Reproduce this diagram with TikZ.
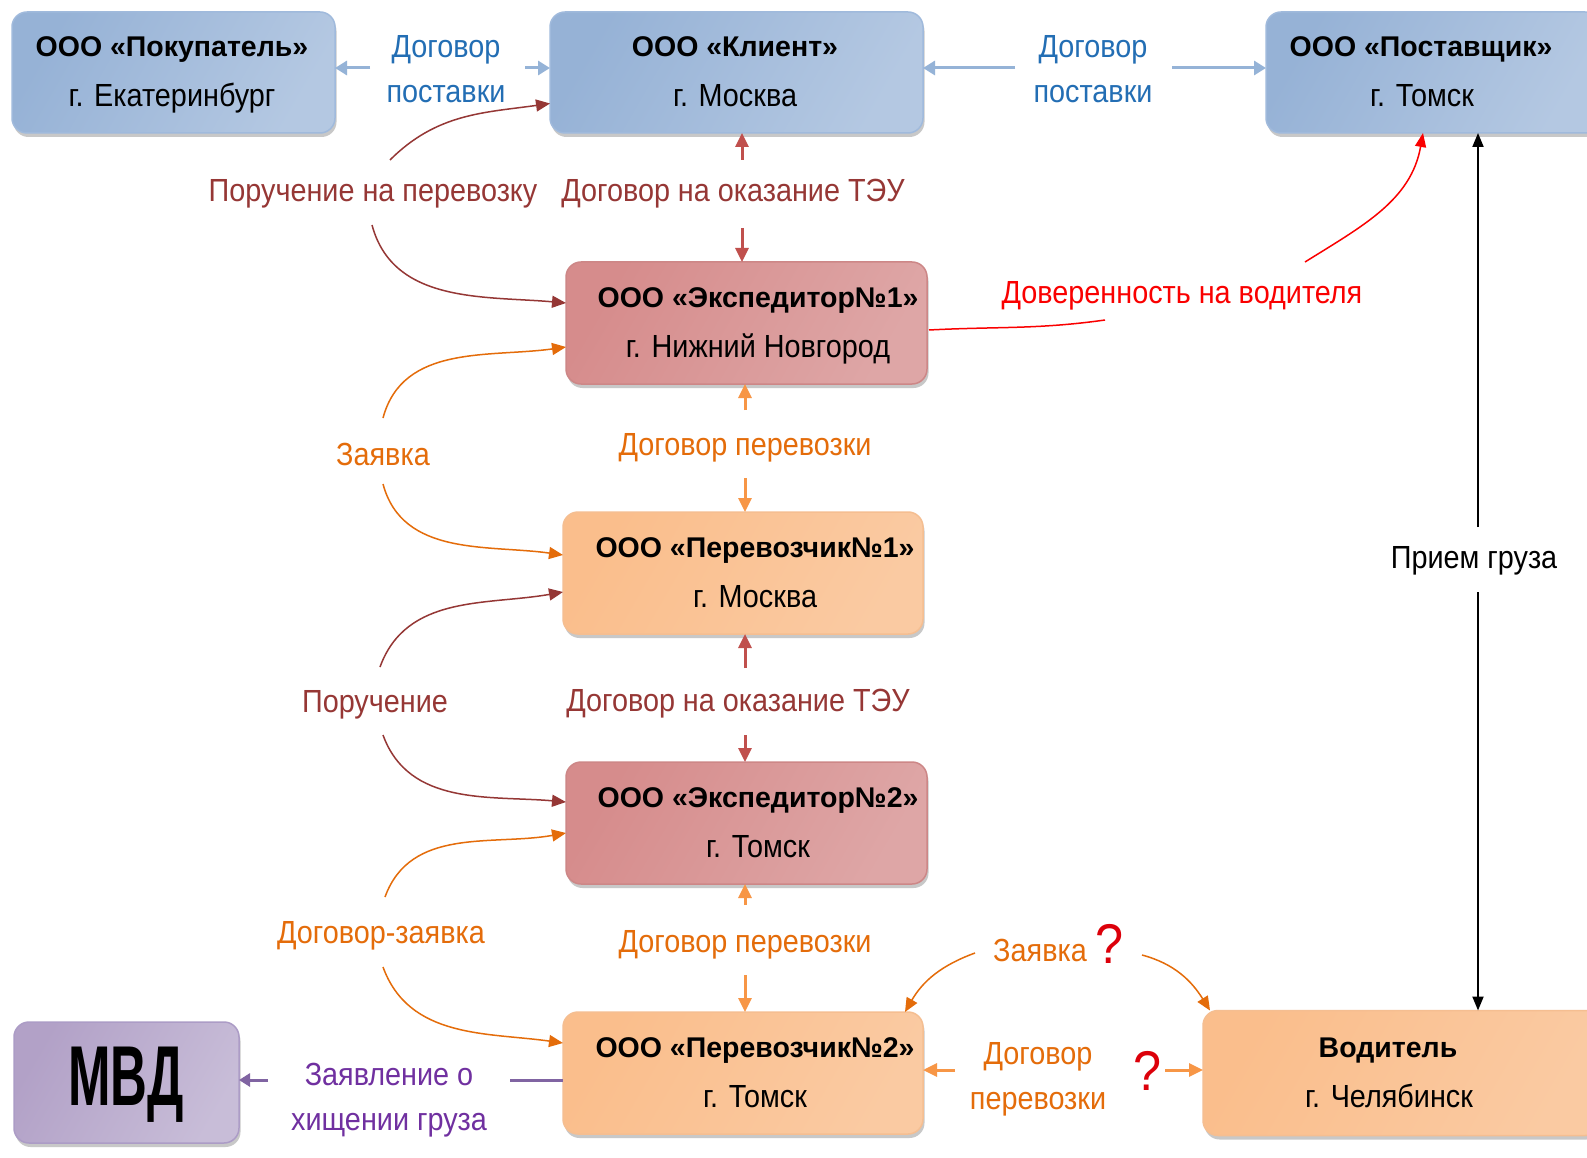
\documentclass[tikz,border=0pt]{standalone}
\usepackage{fontspec}
\setmainfont{Liberation Sans}
\newfontfamily\narf[FakeStretch=0.9]{Liberation Sans}
\newfontfamily\mvdf[FakeStretch=0.6]{Liberation Sans}
\usetikzlibrary{arrows.meta,calc,shadows}
\definecolor{bdark}{RGB}{150,178,214}
\definecolor{blight}{RGB}{228,236,245}
\definecolor{bmid}{RGB}{180,200,226}
\definecolor{bbord}{RGB}{160,186,220}
\definecolor{pdark}{RGB}{214,140,140}
\definecolor{plight}{RGB}{247,228,228}
\definecolor{pmid}{RGB}{222,166,166}
\definecolor{pbord}{RGB}{205,135,135}
\definecolor{odark}{RGB}{250,190,140}
\definecolor{olight}{RGB}{254,240,228}
\definecolor{omid}{RGB}{250,202,162}
\definecolor{obord}{RGB}{245,190,145}
\definecolor{vdark}{RGB}{178,161,199}
\definecolor{vlight}{RGB}{236,232,243}
\definecolor{vmid}{RGB}{200,189,216}
\definecolor{vbord}{RGB}{172,156,198}
\definecolor{tblue}{RGB}{35,110,180}
\definecolor{tdred}{RGB}{150,55,53}
\definecolor{torng}{RGB}{228,108,10}
\definecolor{tred}{RGB}{250,0,0}
\definecolor{qred}{RGB}{220,0,10}
\definecolor{tpurp}{RGB}{112,48,160}
\definecolor{arblue}{RGB}{149,179,215}
\definecolor{arstub}{RGB}{192,80,77}
\definecolor{arcurve}{RGB}{149,55,53}
\definecolor{aroc}{RGB}{228,108,10}
\definecolor{aros}{RGB}{247,150,70}
\definecolor{arpurp}{RGB}{128,100,162}
\begin{document}
\begin{tikzpicture}[x=1pt,y=1pt,
  box/.style={draw, rounded corners=15pt, line width=1.5pt, inner sep=0pt, outer sep=0pt,
    drop shadow={shadow xshift=1.5pt, shadow yshift=-4pt, opacity=0.3, fill=black!70}},
  bluebox/.style={box, draw=bbord, left color=bdark, middle color=blight, right color=bmid, shading angle=60},
  pinkbox/.style={box, draw=pbord, left color=pdark, middle color=plight, right color=pmid, shading angle=60},
  orbox/.style={box, draw=obord, left color=odark, middle color=olight, right color=omid, shading angle=60},
  vibox/.style={box, draw=vbord, left color=vdark, middle color=vlight, right color=vmid, shading angle=60},
  ttl/.style={inner sep=0pt, anchor=base, font=\fontsize{28.5}{30}\selectfont\bfseries},
  sub/.style={inner sep=0pt, anchor=base, font=\narf\fontsize{32}{45}\selectfont},
  lbl/.style={inner sep=0pt, anchor=base, font=\narf\fontsize{32}{45}\selectfont},
  lbl2/.style={inner sep=0pt, align=center, font=\narf\fontsize{32}{45}\selectfont},
  qm/.style={inner sep=0pt, anchor=base, text=qred, font=\narf\fontsize{56}{56}\selectfont},
  ablue/.style={draw=arblue, line width=3pt, -{Triangle[length=12pt,width=14pt]}},
  astub/.style={draw=arstub, line width=3pt, -{Triangle[length=14pt,width=13pt]}},
  acurve/.style={draw=arcurve, line width=1.5pt, -{Triangle[length=14pt,width=12pt]}},
  aocur/.style={draw=aroc, line width=1.5pt, -{Triangle[length=14pt,width=12pt]}},
  aostub/.style={draw=aros, line width=3pt, -{Triangle[length=14pt,width=13pt]}},
  ared/.style={draw=tred, line width=1.5pt},
  ablack/.style={draw=black, line width=2pt, -{Triangle[length=14pt,width=11pt]}},
  apurp/.style={draw=arpurp, line width=3pt}
]
\useasboundingbox[fill=white] (0,0) rectangle (1587,-1158);

% boxes
\node[bluebox, minimum width=323, minimum height=121] (pok) at (173.5,-72.5) {};
\node[bluebox, minimum width=373, minimum height=121] (kli) at (736.5,-72.5) {};
\node[bluebox, minimum width=334, minimum height=121] (pos) at (1433,-72.5) {};
\node[pinkbox, minimum width=361, minimum height=122] (ex1) at (746.5,-323) {};
\node[orbox, minimum width=360, minimum height=122] (per1) at (743,-573) {};
\node[pinkbox, minimum width=361, minimum height=122] (ex2) at (746.5,-823) {};
\node[orbox, minimum width=360, minimum height=122] (per2) at (743,-1073) {};
\node[vibox, minimum width=225, minimum height=121] (mvd) at (126.5,-1082.5) {};
\node[orbox, minimum width=397, minimum height=125] (vod) at (1401.5,-1073) {};

% box texts
\node[ttl] (pokA) at (172,-56.5) {ООО «Покупатель»};
\node[sub] (pokB) at (172,-106.5) {г. Екатеринбург};
\node[ttl] (kliA) at (735,-56.5) {ООО «Клиент»};
\node[sub] (kliB) at (735,-106.5) {г. Москва};
\node[ttl] (posA) at (1421,-56.5) {ООО «Поставщик»};
\node[sub] (posB) at (1422,-106.5) {г. Томск};
\node[ttl] (ex1A) at (758,-307) {ООО «Экспедитор№1»};
\node[sub] (ex1B) at (758,-357) {г. Нижний Новгород};
\node[ttl] (per1A) at (755,-557) {ООО «Перевозчик№1»};
\node[sub] (per1B) at (755,-607) {г. Москва};
\node[ttl] (ex2A) at (758,-807) {ООО «Экспедитор№2»};
\node[sub] (ex2B) at (758,-857) {г. Томск};
\node[ttl] (per2A) at (755,-1057) {ООО «Перевозчик№2»};
\node[sub] (per2B) at (755,-1107) {г. Томск};
\node[ttl] (vodA) at (1388,-1057) {Водитель};
\node[sub] (vodB) at (1389,-1107) {г. Челябинск};
\node[inner sep=0pt, anchor=base, font=\mvdf\fontsize{85}{85}\selectfont\bfseries] (mvdA) at (126,-1105) {МВД};

% labels
\node[lbl2, text=tblue] (dp1) at (446,-69) {Договор\\поставки};
\node[lbl2, text=tblue] (dp2) at (1093,-69) {Договор\\поставки};
\node[lbl, text=tdred] (por1) at (373,-202) {Поручение на перевозку};
\node[lbl, text=tdred] (tey1) at (733,-202) {Договор на оказание ТЭУ};
\node[lbl, text=tred] (dov) at (1182,-304) {Доверенность на водителя};
\node[lbl, text=torng] (zay1) at (383,-465) {Заявка};
\node[lbl, text=torng] (dpr1) at (745,-455) {Договор перевозки};
\node[lbl, text=tdred] (por2) at (375,-712) {Поручение};
\node[lbl, text=tdred] (tey2) at (738,-711) {Договор на оказание ТЭУ};
\node[lbl, text=torng] (dz) at (381,-943) {Договор-заявка};
\node[lbl, text=torng] (dpr2) at (745,-952) {Договор перевозки};
\node[lbl, text=torng] (zay2) at (1040,-961) {Заявка};
\node[qm] (q1) at (1110,-963) {?};
\node[lbl2, text=torng] (dpr3) at (1038,-1079) {Договор\\перевозки};
\node[qm] (q2) at (1147,-1090) {?};
\node[lbl, text=black] (prg) at (1474,-568) {Прием груза};
\node[lbl2, text=tpurp] (zh) at (389,-1100) {Заявление о\\хищении груза};

% free ends
\coordinate (b1) at (370,-68);
\coordinate (b2) at (525,-68);
\coordinate (b3) at (1015,-68);
\coordinate (b4) at (1172,-68);
\coordinate (c1) at (390,-160);
\coordinate (c2) at (372,-225);
\coordinate (c3) at (383,-418);
\coordinate (c4) at (383,-484);
\coordinate (c5) at (380,-667);
\coordinate (c6) at (383,-735);
\coordinate (c7) at (385,-897);
\coordinate (c8) at (383,-967);
\coordinate (s1) at (742,-160);
\coordinate (s2) at (742,-228);
\coordinate (s3) at (745,-410);
\coordinate (s4) at (745,-478);
\coordinate (s5) at (745,-668);
\coordinate (s6) at (745,-735);
\coordinate (s7) at (745,-905);
\coordinate (s8) at (745,-975);
\coordinate (r1) at (1105,-320);
\coordinate (r2) at (1305,-262);
\coordinate (k1) at (975,-953);
\coordinate (k2) at (1142,-955);
\coordinate (h1) at (955,-1070);
\coordinate (h2) at (1165,-1070);
\coordinate (g1) at (1478,-527);
\coordinate (g2) at (1478,-592);
\coordinate (m1) at (268,-1080);
\coordinate (m2) at (510,-1080);

% blue supply arrows
\draw[ablue] (b1) -- (b1 -| pok.east);
\draw[ablue] (b2) -- (b2 -| kli.west);
\draw[ablue] (b3) -- (b3 -| kli.east);
\draw[ablue] (b4) -- (b4 -| pos.west);

% vertical stubs
\draw[astub] (s1) -- (s1 |- kli.south);
\draw[astub] (s2) -- (s2 |- ex1.north);
\draw[aostub] (s3) -- (s3 |- ex1.south);
\draw[aostub] (s4) -- (s4 |- per1.north);
\draw[astub] (s5) -- (s5 |- per1.south);
\draw[astub] (s6) -- (s6 |- ex2.north);
\draw[aostub] (s7) -- (s7 |- ex2.south);
\draw[aostub] (s8) -- (s8 |- per2.north);

% curved connectors on the left
\draw[acurve] (c1) to[out=45, in=188] ($(kli.west)+(0,-31)$);
\draw[acurve] (c2) to[out=-75, in=175] ($(ex1.west)+(0,20)$);
\draw[aocur] (c3) to[out=75, in=188] ($(ex1.west)+(0,-24)$);
\draw[aocur] (c4) to[out=-75, in=172] ($(per1.west)+(0,18)$);
\draw[acurve] (c5) to[out=70, in=190] ($(per1.west)+(0,-19)$);
\draw[acurve] (c6) to[out=-70, in=175] ($(ex2.west)+(0,21)$);
\draw[aocur] (c7) to[out=70, in=190] ($(ex2.west)+(0,-10)$);
\draw[aocur] (c8) to[out=-70, in=172] ($(per2.west)+(0,30)$);

% power of attorney
\draw[ared] ($(ex1.east)+(2,-7)$) to[out=3, in=188] (r1);
\draw[ared, -{Triangle[length=14pt,width=11pt]}] (r2) to[out=32, in=-100] ($(pos.south)+(-10,0)$);

% driver links
\draw[aocur] (k1) to[out=200, in=60] ($(per2.north east)+(-18,0)$);
\draw[aocur] (k2) to[out=-15, in=122] ($(vod.north west)+(7,0)$);
\draw[aostub] (h1) -- (h1 -| per2.east);
\draw[aostub] (h2) -- (h2 -| vod.west);

% cargo reception
\draw[ablack] (g1) -- (g1 |- pos.south);
\draw[ablack] (g2) -- (g2 |- vod.north);

% police
\draw[apurp, -{Triangle[length=11pt,width=13pt]}] (m1) -- (m1 -| mvd.east);
\draw[apurp] (m2) -- (m2 -| per2.west);
\end{tikzpicture}
\end{document}
